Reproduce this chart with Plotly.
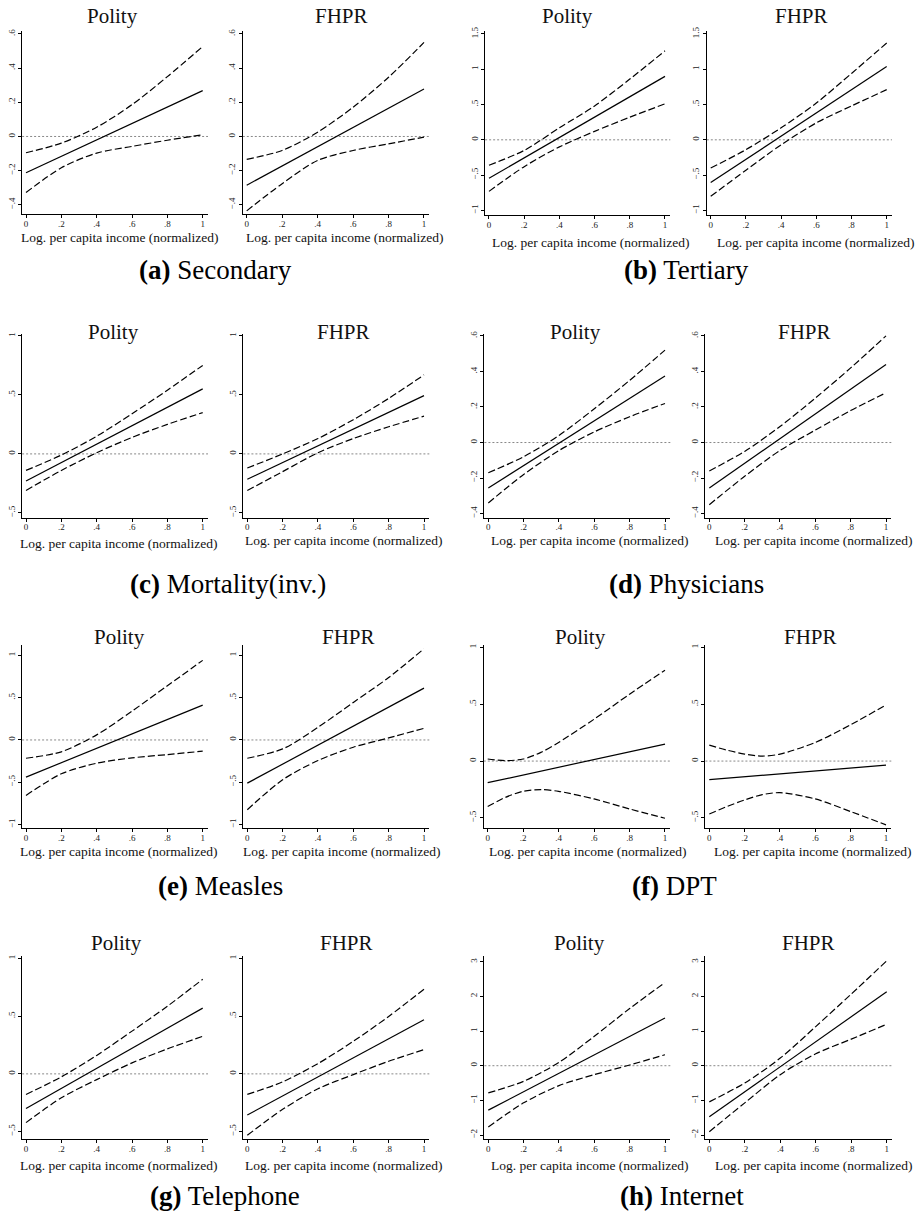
import plotly.graph_objects as go

W, H = 918, 1212

# ---------------- data ----------------
x_est = [0, 1]
x_ci = [0, 0.2, 0.4, 0.6, 0.8, 1]
x_ci_dpt = [0, 0.1, 0.2, 0.3, 0.4, 0.6, 0.8, 1]
x_tickvals = [0, 0.2, 0.4, 0.6, 0.8, 1]
x_ticktext = ["0", ".2", ".4", ".6", ".8", "1"]

panel_titles = ["Polity", "FHPR"]
x_title = "Log. per capita income (normalized)"
caption_letters = ["(a)", "(b)", "(c)", "(d)", "(e)", "(f)", "(g)", "(h)"]
caption_names = ["Secondary", "Tertiary", "Mortality(inv.)", "Physicians",
                 "Measles", "DPT", "Telephone", "Internet"]

# (a) Secondary
sec_polity_est = [-0.212, 0.268]
sec_polity_hi = [-0.095, -0.039, 0.054, 0.186, 0.35, 0.526]
sec_polity_lo = [-0.328, -0.183, -0.097, -0.058, -0.022, 0.01]
sec_fhpr_est = [-0.285, 0.278]
sec_fhpr_hi = [-0.134, -0.082, 0.025, 0.171, 0.346, 0.55]
sec_fhpr_lo = [-0.435, -0.276, -0.14, -0.082, -0.043, -0.004]
sec_yticks = [-0.4, -0.2, 0, 0.2, 0.4, 0.6]
sec_yticktext = ["\u2212.4", "\u2212.2", "0", ".2", ".4", ".6"]

# (b) Tertiary
ter_polity_est = [-0.545, 0.898]
ter_polity_hi = [-0.36, -0.15, 0.17, 0.48, 0.86, 1.26]
ter_polity_lo = [-0.73, -0.38, -0.1, 0.12, 0.32, 0.51]
ter_fhpr_est = [-0.606, 1.039]
ter_fhpr_hi = [-0.40, -0.14, 0.17, 0.52, 0.94, 1.37]
ter_fhpr_lo = [-0.80, -0.43, -0.07, 0.24, 0.48, 0.71]
ter_yticks = [-1, -0.5, 0, 0.5, 1, 1.5]
ter_yticktext = ["\u22121", "\u2212.5", "0", ".5", "1", "1.5"]

# (c) Mortality(inv.)
mor_polity_est = [-0.229, 0.551]
mor_polity_hi = [-0.14, -0.01, 0.15, 0.34, 0.54, 0.75]
mor_polity_lo = [-0.31, -0.14, 0.01, 0.14, 0.25, 0.35]
mor_fhpr_est = [-0.215, 0.494]
mor_fhpr_hi = [-0.12, 0.0, 0.13, 0.29, 0.47, 0.67]
mor_fhpr_lo = [-0.31, -0.15, 0.01, 0.13, 0.23, 0.32]
mor_yticks = [-0.5, 0, 0.5, 1]
mor_yticktext = ["\u2212.5", "0", ".5", "1"]

# (d) Physicians
phy_polity_est = [-0.256, 0.374]
phy_polity_hi = [-0.17, -0.08, 0.04, 0.19, 0.35, 0.52]
phy_polity_lo = [-0.34, -0.18, -0.045, 0.06, 0.145, 0.22]
phy_fhpr_est = [-0.256, 0.439]
phy_fhpr_hi = [-0.16, -0.05, 0.09, 0.25, 0.42, 0.60]
phy_fhpr_lo = [-0.35, -0.19, -0.045, 0.07, 0.18, 0.28]
phy_yticks = [-0.4, -0.2, 0, 0.2, 0.4, 0.6]
phy_yticktext = ["\u2212.4", "\u2212.2", "0", ".2", ".4", ".6"]

# (e) Measles
mea_polity_est = [-0.439, 0.412]
mea_polity_hi = [-0.216, -0.14, 0.06, 0.34, 0.64, 0.94]
mea_polity_lo = [-0.655, -0.4, -0.275, -0.212, -0.173, -0.133]
mea_fhpr_est = [-0.51, 0.612]
mea_fhpr_hi = [-0.216, -0.106, 0.149, 0.443, 0.737, 1.078]
mea_fhpr_lo = [-0.824, -0.47, -0.243, -0.086, 0.024, 0.137]
mea_yticks = [-1, -0.5, 0, 0.5, 1]
mea_yticktext = ["\u22121", "\u2212.5", "0", ".5", "1"]

# (f) DPT
dpt_polity_est = [-0.19, 0.149]
dpt_polity_hi = [0.018, 0.003, 0.018, 0.076, 0.164, 0.368, 0.588, 0.798]
dpt_polity_lo = [-0.40, -0.319, -0.266, -0.251, -0.266, -0.333, -0.421, -0.503]
dpt_fhpr_est = [-0.164, -0.035]
dpt_fhpr_hi = [0.14, 0.096, 0.061, 0.044, 0.061, 0.164, 0.319, 0.494]
dpt_fhpr_lo = [-0.465, -0.40, -0.342, -0.295, -0.278, -0.333, -0.444, -0.561]
dpt_yticks = [-0.5, 0, 0.5, 1]
dpt_yticktext = ["\u2212.5", "0", ".5", "1"]

# (g) Telephone
tel_polity_est = [-0.299, 0.569]
tel_polity_hi = [-0.178, -0.026, 0.16, 0.37, 0.585, 0.819]
tel_polity_lo = [-0.422, -0.207, -0.05, 0.095, 0.216, 0.325]
tel_fhpr_est = [-0.356, 0.468]
tel_fhpr_hi = [-0.178, -0.069, 0.089, 0.282, 0.497, 0.733]
tel_fhpr_lo = [-0.532, -0.307, -0.129, -0.006, 0.109, 0.21]
tel_yticks = [-0.5, 0, 0.5, 1]
tel_yticktext = ["\u2212.5", "0", ".5", "1"]

# (h) Internet
int_polity_est = [-1.282, 1.378]
int_polity_hi = [-0.785, -0.45, 0.096, 0.85, 1.65, 2.4]
int_polity_lo = [-1.77, -1.072, -0.574, -0.258, 0.02, 0.316]
int_fhpr_est = [-1.474, 2.134]
int_fhpr_hi = [-1.043, -0.498, 0.22, 1.129, 2.067, 3.024]
int_fhpr_lo = [-1.904, -1.072, -0.258, 0.344, 0.766, 1.196]
int_yticks = [-2, -1, 0, 1, 2, 3]
int_yticktext = ["\u22122", "\u22121", "0", "1", "2", "3"]

# ---------------- assemble ----------------
series = [
    (x_ci, sec_polity_est, sec_polity_hi, sec_polity_lo, sec_yticks, sec_yticktext),
    (x_ci, sec_fhpr_est, sec_fhpr_hi, sec_fhpr_lo, sec_yticks, sec_yticktext),
    (x_ci, ter_polity_est, ter_polity_hi, ter_polity_lo, ter_yticks, ter_yticktext),
    (x_ci, ter_fhpr_est, ter_fhpr_hi, ter_fhpr_lo, ter_yticks, ter_yticktext),
    (x_ci, mor_polity_est, mor_polity_hi, mor_polity_lo, mor_yticks, mor_yticktext),
    (x_ci, mor_fhpr_est, mor_fhpr_hi, mor_fhpr_lo, mor_yticks, mor_yticktext),
    (x_ci, phy_polity_est, phy_polity_hi, phy_polity_lo, phy_yticks, phy_yticktext),
    (x_ci, phy_fhpr_est, phy_fhpr_hi, phy_fhpr_lo, phy_yticks, phy_yticktext),
    (x_ci, mea_polity_est, mea_polity_hi, mea_polity_lo, mea_yticks, mea_yticktext),
    (x_ci, mea_fhpr_est, mea_fhpr_hi, mea_fhpr_lo, mea_yticks, mea_yticktext),
    (x_ci_dpt, dpt_polity_est, dpt_polity_hi, dpt_polity_lo, dpt_yticks, dpt_yticktext),
    (x_ci_dpt, dpt_fhpr_est, dpt_fhpr_hi, dpt_fhpr_lo, dpt_yticks, dpt_yticktext),
    (x_ci, tel_polity_est, tel_polity_hi, tel_polity_lo, tel_yticks, tel_yticktext),
    (x_ci, tel_fhpr_est, tel_fhpr_hi, tel_fhpr_lo, tel_yticks, tel_yticktext),
    (x_ci, int_polity_est, int_polity_hi, int_polity_lo, int_yticks, int_yticktext),
    (x_ci, int_fhpr_est, int_fhpr_hi, int_fhpr_lo, int_yticks, int_yticktext),
]

# layout geometry in pixels: x0 px, x1 px, axis top, axis bottom,
# (upper tick value, its px), (lower tick value, its px)
geom = [
    (26, 202.7, 26.7, 210.7, 0.6, 30, -0.4, 201.7),
    (246.7, 424, 26.7, 210.7, 0.6, 30, -0.4, 201.7),
    (489, 665, 26.7, 211.7, 1.5, 30, -1, 207.3),
    (710.7, 886.7, 26.7, 211.7, 1.5, 30, -1, 207.3),
    (26, 202.7, 331.7, 515.7, 1, 333.3, -0.5, 511),
    (247.3, 424, 331.7, 515.7, 1, 333.3, -0.5, 511),
    (488.3, 665, 331.7, 515.7, 0.6, 333.3, -0.4, 511.7),
    (709.3, 886, 331.7, 515.7, 0.6, 333.3, -0.4, 511.7),
    (26, 202.7, 643.3, 827.7, 1, 654, -1, 824),
    (247.3, 424, 643.3, 827.7, 1, 654, -1, 824),
    (487.7, 665, 643.3, 827.7, 1, 646, -0.5, 817.3),
    (709.3, 886, 643.3, 827.7, 1, 646, -0.5, 817.3),
    (26, 202.7, 956, 1140, 1, 958.3, -0.5, 1132.3),
    (247.3, 424, 956, 1140, 1, 958.3, -0.5, 1132.3),
    (488.3, 665, 956, 1140, 3, 961.7, -2, 1135.7),
    (709.3, 886.7, 956, 1140, 3, 961.7, -2, 1135.7),
]
title_pos = [(112, 12.5), (341.7, 12.5), (567.5, 12.5), (801.7, 12.5),
             (113, 329), (343, 329), (575, 329), (804.5, 329),
             (119, 636), (348, 636), (580, 636), (810, 636),
             (116.7, 942.5), (346, 942.5), (579, 942.5), (808, 942.5)]
xlab_pos = [(119.5, 234), (344.5, 234), (590.5, 239), (815.5, 239),
            (119, 542), (343.8, 539), (589.7, 538.5), (813.7, 538.5),
            (119, 851), (342, 851), (588, 851), (812.5, 851),
            (119, 1166), (343.8, 1166), (589.7, 1166), (813.7, 1166)]
cap_pos = [(215, 267), (686, 267), (227.5, 582), (686, 582),
           (220, 886), (674, 886), (224.5, 1197), (681.7, 1197)]

FONT = "Liberation Serif"
XR = (-0.022, 1.03)

fig = go.Figure()
annotations = []
shapes = []

for i, ((xc, est, hi, lo, ytv, ytt), g) in enumerate(zip(series, geom)):
    n = i + 1
    xa = "x" if n == 1 else f"x{n}"
    ya = "y" if n == 1 else f"y{n}"
    px0, px1, top, bot, yvh, yph, yvl, ypl = g
    w = px1 - px0
    L = px0 + XR[0] * w
    R = px0 + XR[1] * w
    s = (ypl - yph) / (yvh - yvl)
    ymax = yvh + (yph - top) / s
    ymin = yvl - (bot - ypl) / s

    for band in (hi, lo):
        fig.add_trace(go.Scatter(x=xc, y=band, mode="lines", xaxis=xa, yaxis=ya,
                                 line=dict(color="black", width=1.2, dash="7px,3px",
                                           shape="spline", smoothing=0.8),
                                 showlegend=False, hoverinfo="skip"))
    fig.add_trace(go.Scatter(x=x_est, y=est, mode="lines", xaxis=xa, yaxis=ya,
                             line=dict(color="black", width=1.2),
                             showlegend=False, hoverinfo="skip"))

    axx = dict(domain=[L / W, R / W], range=list(XR), anchor=ya,
               showline=True, linecolor="black", linewidth=1,
               ticks="outside", ticklen=3, tickwidth=1, tickcolor="black",
               tickvals=x_tickvals, ticktext=x_ticktext,
               ticklabelstandoff=-2,
               tickfont=dict(family=FONT, size=9, color="#222"),
               showgrid=False, zeroline=False)
    axy = dict(domain=[1 - bot / H, 1 - top / H], range=[ymin, ymax], anchor=xa,
               showline=True, linecolor="black", linewidth=1,
               ticks="outside", ticklen=3, tickwidth=1, tickcolor="black",
               tickvals=ytv, ticktext=ytt, tickangle=-90,
               tickfont=dict(family=FONT, size=9, color="#222"),
               showgrid=False, zeroline=False)
    fig.layout["xaxis" if n == 1 else f"xaxis{n}"] = axx
    fig.layout["yaxis" if n == 1 else f"yaxis{n}"] = axy

    shapes.append(dict(type="line", xref=f"{xa} domain", yref=ya,
                       x0=0, x1=1, y0=0, y1=0, layer="below",
                       line=dict(color="#888", width=1, dash="2px,2px")))

    tx, ty = title_pos[i]
    annotations.append(dict(text=panel_titles[i % 2], x=tx / W, y=1 - ty / H,
                            xref="paper", yref="paper", showarrow=False,
                            xanchor="center", yanchor="middle",
                            font=dict(family=FONT, size=21, color="#111")))
    lx, ly = xlab_pos[i]
    annotations.append(dict(text=x_title, x=lx / W, y=1 - ly / H,
                            xref="paper", yref="paper", showarrow=False,
                            xanchor="center", yanchor="middle",
                            font=dict(family=FONT, size=13.5, color="#111")))

for k, (cx, cy) in enumerate(cap_pos):
    annotations.append(dict(text=f"<b>{caption_letters[k]}</b> {caption_names[k]}",
                            x=cx / W, y=1 - cy / H, xref="paper", yref="paper",
                            showarrow=False, xanchor="center", yanchor="middle",
                            font=dict(family=FONT, size=27, color="black")))

fig.update_layout(width=W, height=H, margin=dict(l=0, r=0, t=0, b=0),
                  paper_bgcolor="white", plot_bgcolor="white",
                  annotations=annotations, shapes=shapes, showlegend=False)

fig.write_html("out.html", config={"displayModeBar": False},
               post_script="document.body.style.margin='0';document.body.style.padding='0';")
